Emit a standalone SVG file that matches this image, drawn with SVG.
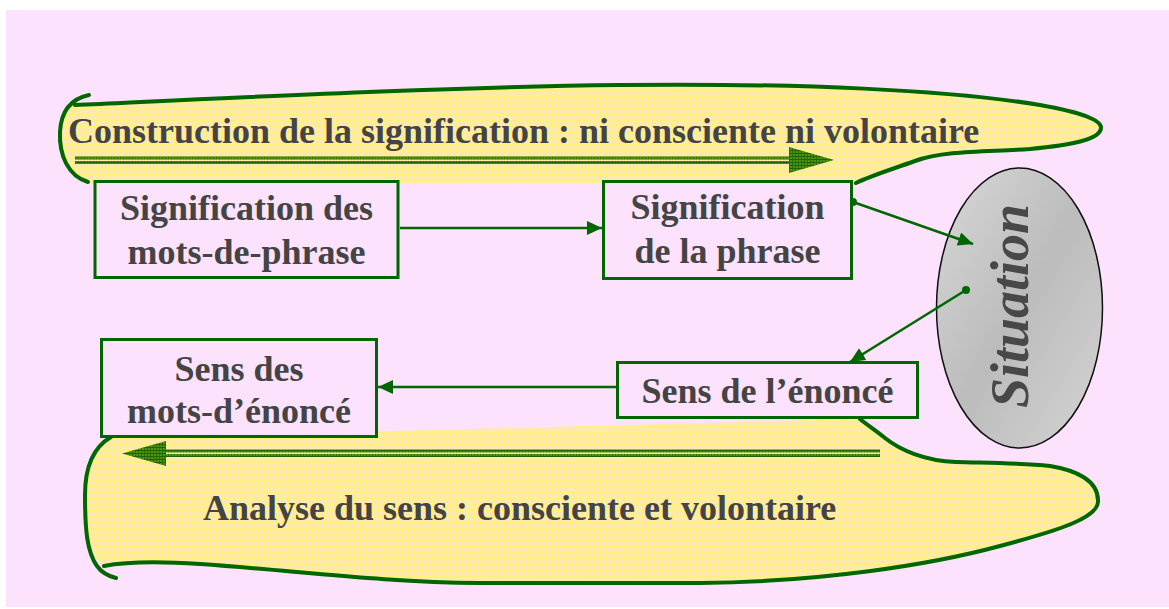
<svg xmlns="http://www.w3.org/2000/svg" width="1169" height="609" viewBox="0 0 1169 609">
<defs>
<style>
.bg{fill:#FCE2FC}
.ban{fill:url(#ypat)}
.banline{fill:none;stroke:#006600;stroke-width:4;stroke-linecap:round;stroke-linejoin:round}
.box{fill:#FCE2FC;stroke:#006600;stroke-width:3}
.t{font-family:"Liberation Serif","Times New Roman",serif;font-weight:bold;font-size:36px;fill:#444444}
.tc{text-anchor:middle}
.conn{fill:none;stroke:#006600;stroke-width:2.5}
.dbl{stroke:url(#gpat);stroke-width:3}
.head{fill:url(#gpat)}
.dot{fill:#006600}
</style>
<pattern id="ypat" patternUnits="userSpaceOnUse" width="3" height="3">
<rect width="3" height="3" fill="#FFF27A"/>
<rect x="1" y="1" width="2" height="2" fill="#FFE6C2"/>
</pattern>
<pattern id="gpat" patternUnits="userSpaceOnUse" width="3" height="3">
<rect width="3" height="3" fill="#4E9412"/>
<rect x="0" y="0" width="3" height="1" fill="#1E6000"/>
<rect x="0" y="0" width="1" height="3" fill="#2A6E00"/>
</pattern>
<linearGradient id="grey" x1="0" y1="0" x2="1" y2="1">
<stop offset="0" stop-color="#D8D8D8"/>
<stop offset="0.5" stop-color="#BCBCBC"/>
<stop offset="1" stop-color="#D4D4D4"/>
</linearGradient>
<marker id="arr" markerUnits="userSpaceOnUse" markerWidth="16" markerHeight="14" refX="15" refY="7" orient="auto">
<path d="M0,0 L15,7 L0,14 Z" fill="#006600"/>
</marker>
</defs>
<rect class="bg" x="6" y="10" width="1163" height="597"/>

<g id="banner-top">
<path class="ban" d="M75,105 C250,97 450,87 620,85 C800,83 950,90 1040,105 C1080,112 1102,120 1101,128 C1100,140 1070,145 1030,149 C990,152 945,150 915,161 C890,170 870,176 856,183 L88,183 C68,176 59,155 60,132 C61,118 66,109 75,105 Z"/>
<path class="banline" d="M75,105 C250,97 450,87 620,85 C800,83 950,90 1040,105 C1080,112 1102,120 1101,128 C1100,140 1070,145 1030,149 C990,152 945,150 915,161 C890,170 870,176 856,183"/>
<path class="banline" d="M88,182 C68,176 59,155 60,132 C61,112 70,99 89,95"/>
<line class="dbl" x1="75" y1="158" x2="792" y2="158"/>
<line class="dbl" x1="75" y1="162.5" x2="792" y2="162.5"/>
<polygon class="head" points="789,147 834,160 789,173"/>
<text class="t" x="68" y="143">Construction de la signification : ni consciente ni volontaire</text>
</g>

<g id="banner-bottom">
<path class="ban" d="M104,566 C130,561 170,562 200,564 C300,571 380,582 480,583 L700,583 C820,582 930,565 1000,546 C1060,530 1097,518 1098,502 C1099,480 1075,470 1050,466 C1020,463 990,463 956,462 C925,461 900,450 885,438 C875,430 866,424 860,419 L111,438 C92,448 85,470 85,495 C85,530 88,555 104,566 Z"/>
<path class="banline" d="M104,566 C130,561 170,562 200,564 C300,571 380,582 480,583 L700,583 C820,582 930,565 1000,546 C1060,530 1097,518 1098,502 C1099,480 1075,470 1050,466 C1020,463 990,463 956,462 C925,461 900,450 885,438 C875,430 866,424 860,419"/>
<path class="banline" d="M111,437 C92,448 85,470 85,495 C85,530 87,552 97,566 C102,573 108,576 116,578"/>
<line class="dbl" x1="163" y1="451" x2="880" y2="451"/>
<line class="dbl" x1="163" y1="455.5" x2="880" y2="455.5"/>
<polygon class="head" points="166,441 122,453.5 166,466"/>
<text class="t" x="203" y="520">Analyse du sens : consciente et volontaire</text>
</g>

<g id="situation">
<ellipse cx="1019.5" cy="308" rx="83" ry="140" fill="url(#grey)" stroke="#111111" stroke-width="1.5"/>
<text transform="translate(1028,306) rotate(-90)" text-anchor="middle" style="font-family:'Liberation Serif','Times New Roman',serif;font-weight:bold;font-style:italic;font-size:54px;fill:#484848">Situation</text>
</g>

<g id="connectors">
<line class="conn" x1="400" y1="228" x2="602" y2="228" marker-end="url(#arr)"/>
<line class="conn" x1="616" y1="387" x2="378" y2="387" marker-end="url(#arr)"/>
<line class="conn" x1="853" y1="202" x2="973" y2="244" marker-end="url(#arr)"/>
<line class="conn" x1="966" y1="290" x2="850" y2="362" marker-end="url(#arr)"/>
<circle class="dot" cx="853" cy="202" r="4"/>
<circle class="dot" cx="966" cy="290" r="4"/>
</g>

<g id="box-signif-mots">
<rect class="box" x="95" y="181.5" width="303" height="96"/>
<text class="t tc" x="246.5" y="220">Signification des</text>
<text class="t tc" x="246.5" y="264">mots-de-phrase</text>
</g>
<g id="box-signif-phrase">
<rect class="box" x="603.5" y="181.5" width="248" height="97"/>
<text class="t tc" x="727.5" y="219">Signification</text>
<text class="t tc" x="727.5" y="263">de la phrase</text>
</g>
<g id="box-sens-enonce">
<rect class="box" x="617.5" y="362.5" width="300" height="55"/>
<text class="t tc" x="767.5" y="403">Sens de l’énoncé</text>
</g>
<g id="box-sens-mots">
<rect class="box" x="101.5" y="339.5" width="275" height="97"/>
<text class="t tc" x="239" y="381">Sens des</text>
<text class="t tc" x="239" y="423">mots-d’énoncé</text>
</g>
</svg>
